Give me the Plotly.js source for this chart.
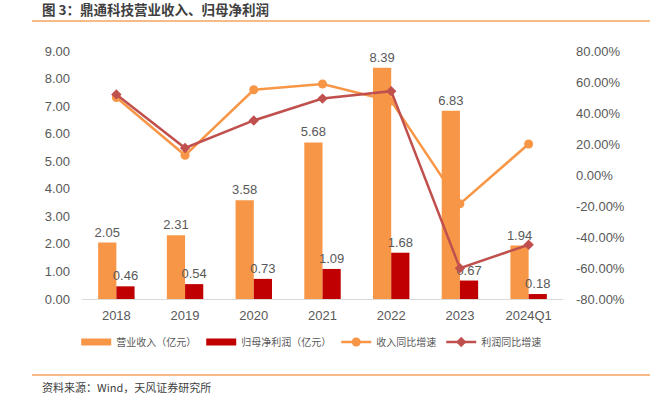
<!DOCTYPE html>
<html>
<head>
<meta charset="utf-8">
<script src="https://cdn.plot.ly/plotly-3.0.1.min.js"></script>
<style>
html,body{margin:0;padding:0;background:#fff;}
#chart{width:650px;height:399px;}
</style>
</head>
<body>
<div id="chart"></div>
<script>
const categories = ['2018','2019','2020','2021','2022','2023','2024Q1'];
const revenue = [2.05, 2.31, 3.58, 5.68, 8.39, 6.83, 1.94];
const netProfit = [0.46, 0.54, 0.73, 1.09, 1.68, 0.67, 0.18];
const revenueGrowth = [50.0, 12.7, 55.0, 58.7, 47.7, -18.6, 20.0];
const profitGrowth = [52.0, 17.4, 35.2, 49.3, 54.1, -60.1, -45.0];
const leftTicks = [0,1,2,3,4,5,6,7,8,9];
const rightTicks = [-80,-60,-40,-20,0,20,40,60,80];
const seriesNames = ['营业收入（亿元）','归母净利润（亿元）','收入同比增速','利润同比增速'];

const FONT = 'Liberation Sans, Arial, Noto Sans CJK SC, sans-serif';
const CJK = 'Noto Sans CJK SC, sans-serif';
const GRAY = '#595959';
const ORANGE = '#F79646', DARKRED = '#C00000', RED = '#C0504D';

const traces = [
  // legend swatches for the bar series (wide flat rectangles, as in the reference)
  {type:'scatter', mode:'lines', name:seriesNames[0], x:[null], y:[null],
   line:{color:ORANGE,width:7}, legendgroup:'rev', hoverinfo:'none'},
  {type:'scatter', mode:'lines', name:seriesNames[1], x:[null], y:[null],
   line:{color:DARKRED,width:7}, legendgroup:'np', hoverinfo:'none'},
  {type:'bar', name:seriesNames[0], x:categories, y:revenue, showlegend:false, legendgroup:'rev',
   marker:{color:ORANGE}, text:revenue.map(v=>v.toFixed(2)),
   textposition:'outside', constraintext:'none', textfont:{family:FONT,size:13,color:GRAY},
   cliponaxis:false, hoverinfo:'none'},
  {type:'bar', name:seriesNames[1], x:categories, y:netProfit, showlegend:false, legendgroup:'np',
   marker:{color:DARKRED}, text:netProfit.map(v=>v.toFixed(2)),
   textposition:'outside', constraintext:'none', textfont:{family:FONT,size:13,color:GRAY},
   cliponaxis:false, hoverinfo:'none'},
  {type:'scatter', mode:'lines+markers', name:seriesNames[2], x:categories, y:revenueGrowth,
   yaxis:'y2', line:{color:ORANGE,width:2.5}, marker:{symbol:'circle',size:9,color:ORANGE},
   cliponaxis:false, hoverinfo:'none'},
  {type:'scatter', mode:'lines+markers', name:seriesNames[3], x:categories, y:profitGrowth,
   yaxis:'y2', line:{color:RED,width:2.5}, marker:{symbol:'diamond',size:8,color:RED},
   cliponaxis:false, hoverinfo:'none'}
];

const layout = {
  width:650, height:399,
  margin:{l:82, r:87, t:51, b:100},
  paper_bgcolor:'#fff', plot_bgcolor:'#fff',
  showlegend:true,
  barmode:'group', bargap:0.47, bargroupgap:0,
  font:{family:FONT, color:GRAY, size:13},
  xaxis:{type:'category', showgrid:false, zeroline:false, showline:true,
    linecolor:'#D9D9D9', linewidth:1, ticks:'', tickfont:{family:FONT,size:13,color:GRAY},
    ticklabelstandoff:4, fixedrange:true},
  yaxis:{range:[0,9], tickvals:leftTicks, ticktext:leftTicks.map(v=>v.toFixed(2)),
    showgrid:false, zeroline:false, showline:false, ticks:'',
    tickfont:{family:FONT,size:13,color:GRAY}, ticklabelstandoff:11, fixedrange:true},
  yaxis2:{range:[-80,80], overlaying:'y', side:'right', tickvals:rightTicks,
    ticktext:rightTicks.map(v=>v.toFixed(2)+'%'),
    showgrid:false, zeroline:false, showline:false, ticks:'',
    tickfont:{family:FONT,size:13,color:GRAY}, ticklabelstandoff:12, fixedrange:true},
  legend:{orientation:'h', x:-0.012, xanchor:'left',
    y:-(342-299)/248, yanchor:'middle',
    font:{family:CJK,size:10,color:GRAY}, itemwidth:30, tracegroupgap:0,
    bgcolor:'rgba(0,0,0,0)'},
  shapes:[
    {type:'line', xref:'paper', yref:'paper', x0:-50/481, x1:608/481, y0:1+30/248, y1:1+30/248,
     line:{color:'#F4A460',width:1.5}},
    {type:'line', xref:'paper', yref:'paper', x0:-50/481, x1:608/481, y0:-76/248, y1:-76/248,
     line:{color:'#F4A460',width:1.5}}
  ],
  annotations:[
    {text:'<b>图\u00a03：鼎通科技营业收入、归母净利润</b>', xref:'paper', yref:'paper',
     x:-42/481, y:1+42/248, xanchor:'left', yanchor:'middle', showarrow:false,
     font:{family:CJK,size:13.5,color:'#404040'}},
    {text:'资料来源：Wind，天风证券研究所', xref:'paper', yref:'paper',
     x:-42/481, y:-88/248, xanchor:'left', yanchor:'middle', showarrow:false,
     font:{family:CJK,size:11,color:'#404040'}}
  ]
};

Plotly.newPlot('chart', traces, layout, {displayModeBar:false, staticPlot:true});
</script>
</body>
</html>
